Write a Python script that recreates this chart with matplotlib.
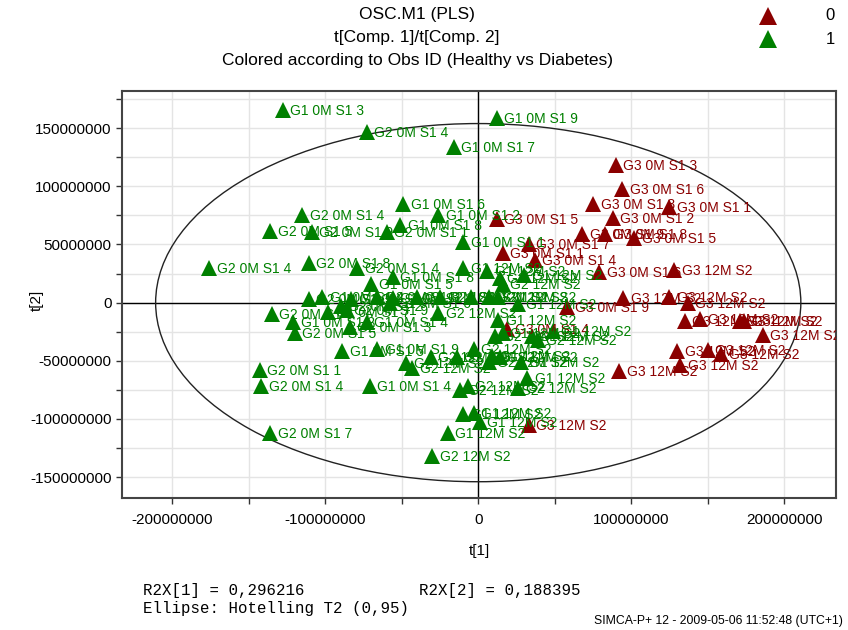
import matplotlib
matplotlib.use("Agg")
import matplotlib.pyplot as plt
from matplotlib.lines import Line2D
from matplotlib.patches import Ellipse
from matplotlib.ticker import MultipleLocator, FuncFormatter

SCALE = 1e6  # scores below are given in millions

# Class 0 observations (dark red): t[1], t[2] and observation names
t1_class0 = [90, 94, 75, 125, 88, 12, 68, 83, 102, 33, 16, 37, 79, 128,
             95, 125, 137, 135, 145, 171, 174, 186, 130, 150, 159, 132, 92,
             58, 19, 33]
t2_class0 = [118, 98, 85, 82, 73, 72, 59, 59, 56, 50, 43, 37, 26, 28,
             4, 5, 0, -16, -14, -16, -16, -28, -42, -41, -44, -54, -59,
             -4, -23, -105]
labels_class0 = ["G3 0M S1 3", "G3 0M S1 6", "G3 0M S1 8", "G3 0M S1 1",
                 "G3 0M S1 2", "G3 0M S1 5", "G3 0M S1 9", "G3 0M S1 8",
                 "G3 0M S1 5", "G3 0M S1 7", "G3 0M S1 1", "G3 0M S1 4",
                 "G3 0M S1 6", "G3 12M S2", "G3 12M S2", "G3 12M S2",
                 "G3 12M S2", "G3 12M S2", "G3 12M S2", "G3 12M S2",
                 "G3 12M S2", "G3 12M S2", "G3 12M S2", "G3 12M S2",
                 "G3 12M S2", "G3 12M S2", "G3 12M S2", "G3 0M S1 9",
                 "G3 0M S1 4", "G3 12M S2"]

# Class 1 observations (green)
t1_class1 = [-128, -73, -16, 12, -49, -115, -136, -109, -60, -51, -26, -10,
             -176, -111, -79, -56, -70, -10, 6, 14, 30, -111, -102, -90,
             -83, -66, -56, -40, -25, -5, 7, 13, 26, -135, -121, -120, -98,
             -86, -73, -84, -58, -26, -89, -66, -47, -43, -31, -14, -3,
             -143, -142, -71, -136, -12, -7, -10, -3, -20, -30, 13, 11, 16,
             35, 39, 49, 7, 9, 14, 26, 32, 1, 28, 16]
t2_class1 = [166, 147, 134, 159, 85, 75, 62, 61, 61, 67, 75, 52,
             30, 34, 30, 22, 16, 30, 27, 21, 24, 3, 5, -3,
             3, 5, 4, 5, 5, 5, 5, 5, -1, -10, -17, -26, -8,
             -6, -17, -21, 0, -9, -42, -40, -52, -56, -47, -47, -40,
             -58, -72, -72, -112, -75, -72, -96, -95, -112, -132, -15, -29, -26,
             -29, -32, -24, -51, -46, -47, -73, -65, -103, -51, 16]
labels_class1 = ["G1 0M S1 3", "G2 0M S1 4", "G1 0M S1 7", "G1 0M S1 9",
                 "G1 0M S1 6", "G2 0M S1 4", "G2 0M S1 5", "G2 0M S1 9",
                 "G2 0M S1 1", "G1 0M S1 8", "G1 0M S1 2", "G1 0M S1 1",
                 "G2 0M S1 4", "G2 0M S1 8", "G2 0M S1 4", "G1 0M S1 8",
                 "G1 0M S1 5", "G1 12M S2", "G1 12M S2", "G2 12M S2",
                 "G1 12M S2", "G2 0M S1 3", "G1 0M S1 4", "G2 0M S1 2",
                 "G1 0M S1 9", "G2 0M S1 6", "G1 0M S1 3", "G2 12M S2",
                 "G2 12M S2", "G1 12M S2", "G2 12M S2", "G1 12M S2",
                 "G1 12M S2", "G2 0M S1 6", "G1 0M S1 2", "G2 0M S1 5",
                 "G1 0M S1 7", "G2 0M S1 9", "G1 0M S1 4", "G2 0M S1 3",
                 "G1 0M S1 6", "G2 12M S2", "G1 0M S1 5", "G1 0M S1 9",
                 "G2 12M S2", "G2 12M S2", "G2 12M S2", "G2 12M S2",
                 "G2 12M S2", "G2 0M S1 1", "G2 0M S1 4", "G1 0M S1 4",
                 "G2 0M S1 7", "G2 12M S2", "G2 12M S2", "G1 12M S2",
                 "G1 12M S2", "G1 12M S2", "G2 12M S2", "G1 12M S2",
                 "G2 12M S2", "G1 12M S2", "G1 12M S2", "G2 12M S2",
                 "G1 12M S2", "G2 12M S2", "G1 12M S2", "G2 12M S2",
                 "G2 12M S2", "G1 12M S2", "G1 12M S2", "G1 12M S2",
                 "G2 12M S2"]

class_names = ["0", "1"]
class_colors = ["#8b0000", "#008000"]

# Hotelling T2 (0.95) ellipse semi-axes, millions
ellipse_t1 = 211
ellipse_t2 = 154

r2x_values = ["0,296216", "0,188395"]

plt.rcParams["font.family"] = ["Liberation Sans", "DejaVu Sans"]
MONO = ["Liberation Mono", "DejaVu Sans Mono"]

fig = plt.figure(figsize=(8.48, 6.30), dpi=100)
ax = fig.add_axes([122 / 848, 1 - 498 / 630, (836 - 122) / 848, (498 - 91) / 630])

ax.set_xlim(-233 * SCALE, 234 * SCALE)
ax.set_ylim(-168 * SCALE, 182 * SCALE)
ax.xaxis.set_major_locator(MultipleLocator(100 * SCALE))
ax.xaxis.set_minor_locator(MultipleLocator(50 * SCALE))
ax.yaxis.set_major_locator(MultipleLocator(50 * SCALE))
ax.yaxis.set_minor_locator(MultipleLocator(25 * SCALE))
fmt = FuncFormatter(lambda v, _: f"{v:.0f}")
ax.xaxis.set_major_formatter(fmt)
ax.yaxis.set_major_formatter(fmt)
ax.tick_params(which="both", direction="out", length=4, width=1,
               color="#333333", labelsize=11, labelcolor="black")
ax.tick_params(axis="x", pad=7)
ax.grid(True, which="both", color="#e4e4e4", linewidth=1)
ax.set_axisbelow(True)
for sp in ax.spines.values():
    sp.set_color("#444444")
    sp.set_linewidth(1.5)

ax.axhline(0, color="black", linewidth=1, zorder=1.5)
ax.axvline(0, color="black", linewidth=1, zorder=1.5)
ax.add_patch(Ellipse((0, 0), 2 * ellipse_t1 * SCALE, 2 * ellipse_t2 * SCALE,
                     fill=False, edgecolor="#222222", linewidth=1, zorder=1.6))

groups = [(t1_class0, t2_class0, labels_class0, class_colors[0]),
          (t1_class1, t2_class1, labels_class1, class_colors[1])]
for xs, ys, names, col in groups:
    xv = [v * SCALE for v in xs]
    yv = [v * SCALE for v in ys]
    ax.plot(xv, yv, linestyle="none", marker="^", markersize=11,
            color=col, markeredgewidth=0, zorder=3)
    for x, y, name in zip(xv, yv, names):
        ax.annotate(name, (x, y), xytext=(5.5, -3.6), textcoords="offset points",
                    va="baseline", ha="left", fontsize=10, color=col,
                    zorder=4, annotation_clip=True, clip_on=True)

ax.set_xlabel("t[1]", fontsize=11, labelpad=12)
fig.text(37 / 848, 1 - 300 / 630, "t[2]", rotation=90, ha="center",
         va="center", fontsize=11)

# Titles
title_lines = ["OSC.M1 (PLS)", "t[Comp. 1]/t[Comp. 2]",
               "Colored according to Obs ID (Healthy vs Diabetes)"]
for i, line in enumerate(title_lines):
    fig.text(417 / 848, 1 - (15 + 22.5 * i) / 630, line, ha="center",
             va="center", fontsize=12.5)

# Class key
for i, (name, col) in enumerate(zip(class_names, class_colors)):
    yk = 1 - (16 + 23 * i) / 630
    fig.add_artist(Line2D([768 / 848], [yk], marker="^", markersize=13,
                          color=col, markeredgewidth=0,
                          transform=fig.transFigure))
    fig.text(830 / 848, yk, name, ha="center", va="center", fontsize=12)

# Model statistics
fig.text(143 / 848, 1 - 591 / 630, f"R2X[1] = {r2x_values[0]}",
         family=MONO, fontsize=11.3, va="center")
fig.text(419 / 848, 1 - 591 / 630, f"R2X[2] = {r2x_values[1]}",
         family=MONO, fontsize=11.3, va="center")
fig.text(143 / 848, 1 - 608 / 630, "Ellipse: Hotelling T2 (0,95)",
         family=MONO, fontsize=11.3, va="center")
fig.text(843 / 848, 1 - 621 / 630, "SIMCA-P+ 12 - 2009-05-06 11:52:48 (UTC+1)",
         ha="right", va="center", fontsize=8.8)

fig.savefig("out.png", dpi=100)
